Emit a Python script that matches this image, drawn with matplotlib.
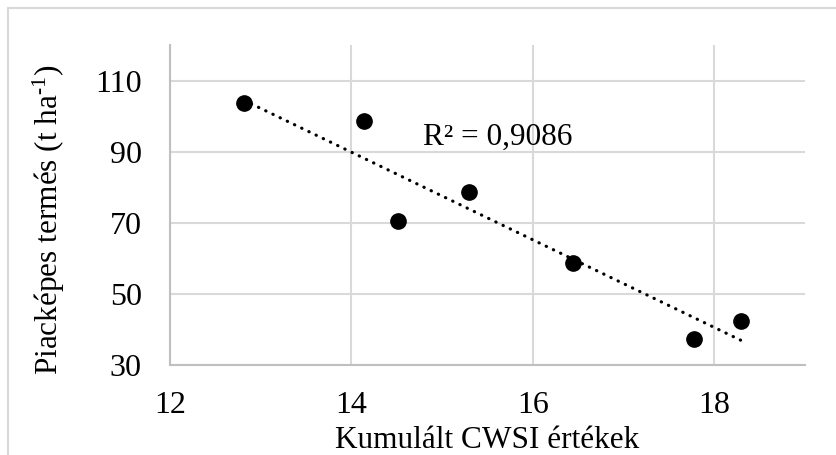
import matplotlib.pyplot as plt
import matplotlib.patches as patches
import numpy as np

plt.rcParams['font.family'] = ['Liberation Serif', 'DejaVu Serif']
plt.rcParams['mathtext.fontset'] = 'custom'
plt.rcParams['mathtext.rm'] = 'Liberation Serif'
plt.rcParams['mathtext.it'] = 'Liberation Serif:italic'

cwsi = [12.82, 14.14, 14.51, 15.30, 16.44, 17.78, 18.29]
yield_t = [103.8, 98.7, 70.5, 78.6, 58.7, 37.4, 42.4]
x_ticks = [12, 14, 16, 18]
y_ticks = [30, 50, 70, 90, 110]
r2_label = 'R² = 0,9086'

# linear trendline like excel
coef = np.polyfit(cwsi, yield_t, 1)
tx = np.array([min(cwsi), max(cwsi)])

fig = plt.figure(figsize=(8.37, 4.55), dpi=100)
fig.patches.append(patches.Rectangle((8/837, -0.1), 1.2, 1 - 8/455 + 0.1, transform=fig.transFigure,
                                     fill=False, edgecolor='#d9d9d9', linewidth=1.5))
ax = fig.add_axes([169.7/837, 1 - 365/455, (805 - 169.7)/837, (365 - 45)/455])

ax.set_xlim(12, 19)
ax.set_ylim(30, 120)
ax.set_xticks(x_ticks)
ax.set_yticks(y_ticks)
ax.grid(True, color='#d9d9d9', linewidth=1.5)
ax.set_axisbelow(True)
for s in ['top', 'right']:
    ax.spines[s].set_visible(False)
for s in ['left', 'bottom']:
    ax.spines[s].set_color('#bfbfbf')
    ax.spines[s].set_linewidth(1.5)
ax.tick_params(length=0, labelsize=23)
ax.tick_params(axis='x', pad=19)
ax.tick_params(axis='y', pad=20)

ax.plot(tx, np.polyval(coef, tx), color='black', linestyle=(0, (0.1, 2.4)),
        dash_capstyle='round', linewidth=2.3)
ax.plot(cwsi, yield_t, 'o', color='black', markersize=11)
ax.text(14.79, 94, r2_label, fontsize=22.5, va='center')

ax.set_xlabel('Kumulált CWSI értékek', fontsize=22.5, labelpad=4)
ax.set_ylabel('Piacképes termés (t ha$^{\\text{-1}}$)', fontsize=22.5)
ax.yaxis.set_label_coords(-0.162, 0.453)

plt.savefig('out.png', dpi=100)
